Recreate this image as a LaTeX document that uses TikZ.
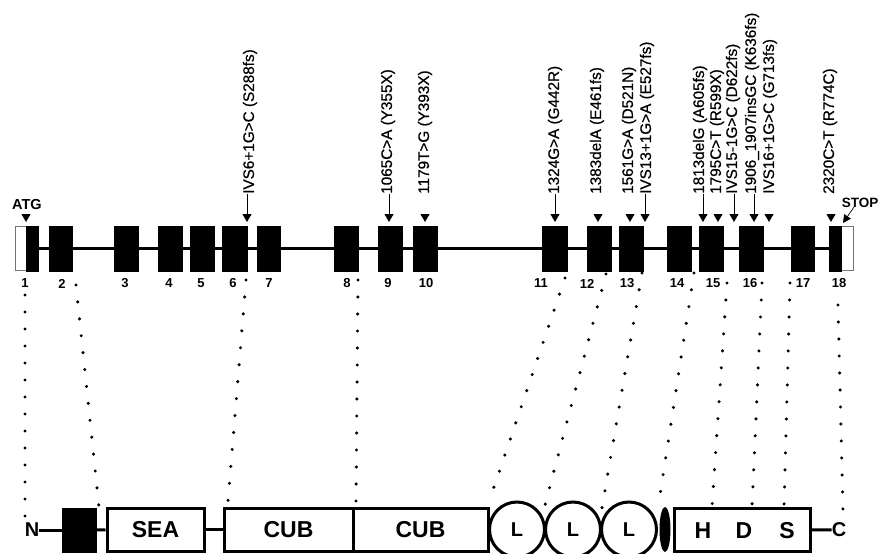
\documentclass[tikz,border=0pt]{standalone}
\usepackage{fontspec}
\setmainfont{Liberation Sans}
\newfontfamily\mutfont[FakeBold=0.6]{Liberation Sans}
\usetikzlibrary{arrows.meta,shapes.geometric}
\begin{document}
\begin{tikzpicture}[x=1pt,y=-1pt,
  exon/.style={draw=black,fill=black,inner sep=0pt,outer sep=0pt,minimum height=45pt},
  utr/.style={draw=black!55,fill=white,line width=0.8pt,inner sep=0pt,outer sep=0pt,minimum height=44pt},
  gline/.style={line width=2.4pt},
  enum/.style={font=\bfseries\fontsize{13}{13}\selectfont,inner sep=0pt},
  mlab/.style={rotate=90,anchor=west,inner sep=0pt,font=\mutfont\fontsize{15.3}{15.3}\selectfont},
  marr/.style={line width=0.9pt,-{Triangle[width=9pt,length=8pt]}},
  trimark/.style={regular polygon,regular polygon sides=3,shape border rotate=180,fill=black,inner sep=0pt,minimum size=10.4pt},
  dotline/.style={line width=3.4pt,line cap=round,dash pattern=on 0pt off 17pt},
  dom/.style={draw=black,line width=3pt,fill=white,inner sep=0pt,minimum height=43pt,font=\bfseries\fontsize{23}{23}\selectfont},
  lc/.style={circle,draw=black,line width=3pt,fill=white,inner sep=0pt,minimum size=55pt,font=\bfseries\fontsize{20}{20}\selectfont},
  dlet/.style={inner sep=0pt,font=\bfseries\fontsize{23}{23}\selectfont},
  term/.style={inner sep=0pt,font=\bfseries\fontsize{20}{20}\selectfont},
  pline/.style={line width=3pt}]
\useasboundingbox (0,0) rectangle (879,554);

% gene backbone
\coordinate (gs) at (15,248.5);
\coordinate (ge) at (853,248.5);
\draw[gline] (gs) -- (ge);

% untranslated parts
\node[utr,minimum width=11pt] (u1) at (20.5,248.5) {};
\node[utr,minimum width=12pt] (u18) at (847,248.5) {};

% exons
\foreach \n/\a/\b in {1/26/38,2/49/72,3/114/138,4/158/182,5/190/214,6/222/247,7/257/280,
  8/334/358,9/378/402,10/413/437,11/542/567,12/587/611,13/619/643,14/667/691,
  15/699/723,16/739/763,17/791/814,18/829/841}
  {\node[exon,minimum width={\b-\a}] (e\n) at ({(\a+\b)/2},248.5) {};}

% exon numbers
\foreach \n/\x in {1/25,2/62,3/125,4/169,5/201,6/233,7/269,8/347,9/388,10/426,
  11/541,12/587,13/627,14/677,15/713,16/750,17/803,18/839}
  {\node[enum] (n\n) at (\x,283.5) {\n};}

% ATG and STOP
\node[font=\bfseries\fontsize{14.5}{14.5}\selectfont,inner sep=0pt] (atg) at (27,205) {ATG};
\node[trimark] (katg) at (26,216.8) {};
\node[font=\bfseries\fontsize{13.5}{13.5}\selectfont,inner sep=0pt] (stop) at (860,203) {STOP};
\coordinate (tstop) at (843,223);
\draw[line width=0.7pt,-{Triangle[width=8pt,length=8pt]}] ([xshift=-6pt,yshift=1pt]stop.south) -- (tstop);

% mutations with arrows
\node[mlab] (m6) at (250,194) {IVS6+1G>C (S288fs)};
\coordinate (t6) at (247,222);
\draw[marr] (t6 |- m6.west) -- (t6);
\node[mlab] (m9) at (388,194) {1065C>A (Y355X)};
\coordinate (t9) at (389,222);
\draw[marr] (t9 |- m9.west) -- (t9);
\node[mlab] (m11) at (555,194) {1324G>A (G442R)};
\coordinate (t11) at (555,222);
\draw[marr] (t11 |- m11.west) -- (t11);
\node[mlab] (m13b) at (647,194) {IVS13+1G>A (E527fs)};
\coordinate (t13b) at (645,222);
\draw[marr] (t13b |- m13b.west) -- (t13b);
\node[mlab] (m15a) at (700,194) {1813delG (A605fs)};
\coordinate (t15a) at (703,222);
\draw[marr] (t15a |- m15a.west) -- (t15a);
\node[mlab] (m15c) at (733,194) {IVS15-1G>C (D622fs)};
\coordinate (t15c) at (734,222);
\draw[marr] (t15c |- m15c.west) -- (t15c);
\node[mlab] (m16a) at (752,194) {1906\_1907insGC (K636fs)};
\coordinate (t16a) at (754,222);
\draw[marr] (t16a |- m16a.west) -- (t16a);

% mutations with triangle marks
\node[mlab] (m10) at (425,194) {1179T>G (Y393X)};
\node[trimark] (k10) at (425,216.8) {};
\node[mlab] (m12) at (597,194) {1383delA (E461fs)};
\node[trimark] (k12) at (598,216.8) {};
\node[mlab] (m13a) at (629,194) {1561G>A (D521N)};
\node[trimark] (k13a) at (630,216.8) {};
\node[mlab] (m15b) at (717,194) {1795C>T (R599X)};
\node[trimark] (k15b) at (718,216.8) {};
\node[mlab] (m16b) at (770,194) {IVS16+1G>C (G713fs)};
\node[trimark] (k16b) at (769,216.8) {};
\node[mlab] (m18) at (830,194) {2320C>T (R774C)};
\node[trimark] (k18) at (831,216.8) {};

% protein domains
\node[term] (N) at (32,530) {N};
\node[draw=black,fill=black,inner sep=0pt,minimum width=34pt,minimum height=44pt] (blk) at (79,530) {};
\node[dom,minimum width=97pt] (sea) at (155.5,529.5) {SEA};
\node[dom,minimum width=129pt] (cub1) at (288.5,529.5) {CUB};
\node[dom,minimum width=135pt] (cub2) at (420.5,529.5) {CUB};
\node[lc] (L1) at (517,529.5) {L};
\node[lc] (L2) at (573,529.5) {L};
\node[lc] (L3) at (629,529.5) {L};
\node[ellipse,fill=black,inner sep=0pt,minimum width=11pt,minimum height=45pt] (ov) at (665,529.5) {};
\node[dom,minimum width=136pt] (hds) at (742,529.5) {};
\node[dlet] (hH) at (703,531) {H};
\node[dlet] (hD) at (744,531) {D};
\node[dlet] (hS) at (787,531) {S};
\node[term] (C) at (839,530) {C};
\draw[pline] (N) -- (blk);
\draw[pline] (blk) -- (sea);
\draw[pline] (sea) -- (cub1);
\draw[pline] (hds) -- (C);

% dotted correspondences
\foreach \i/\xa/\ya/\xb/\yb in {1/25/295/25/518, 2/76/285/99/507, 3/246/280/228/501,
  4/358/280/356/503, 5/565/278/493/490, 6/606/274/545/505, 7/642/273/602/508,
  8/694/273/658/508, 9/727/283/712/507, 10/762/283/752/507, 11/790/283/784/507,
  12/838/305/843/510}
  {\coordinate (da\i) at (\xa,\ya); \coordinate (db\i) at (\xb,\yb);
   \draw[dotline] (da\i) -- (db\i);}
\end{tikzpicture}
\end{document}
